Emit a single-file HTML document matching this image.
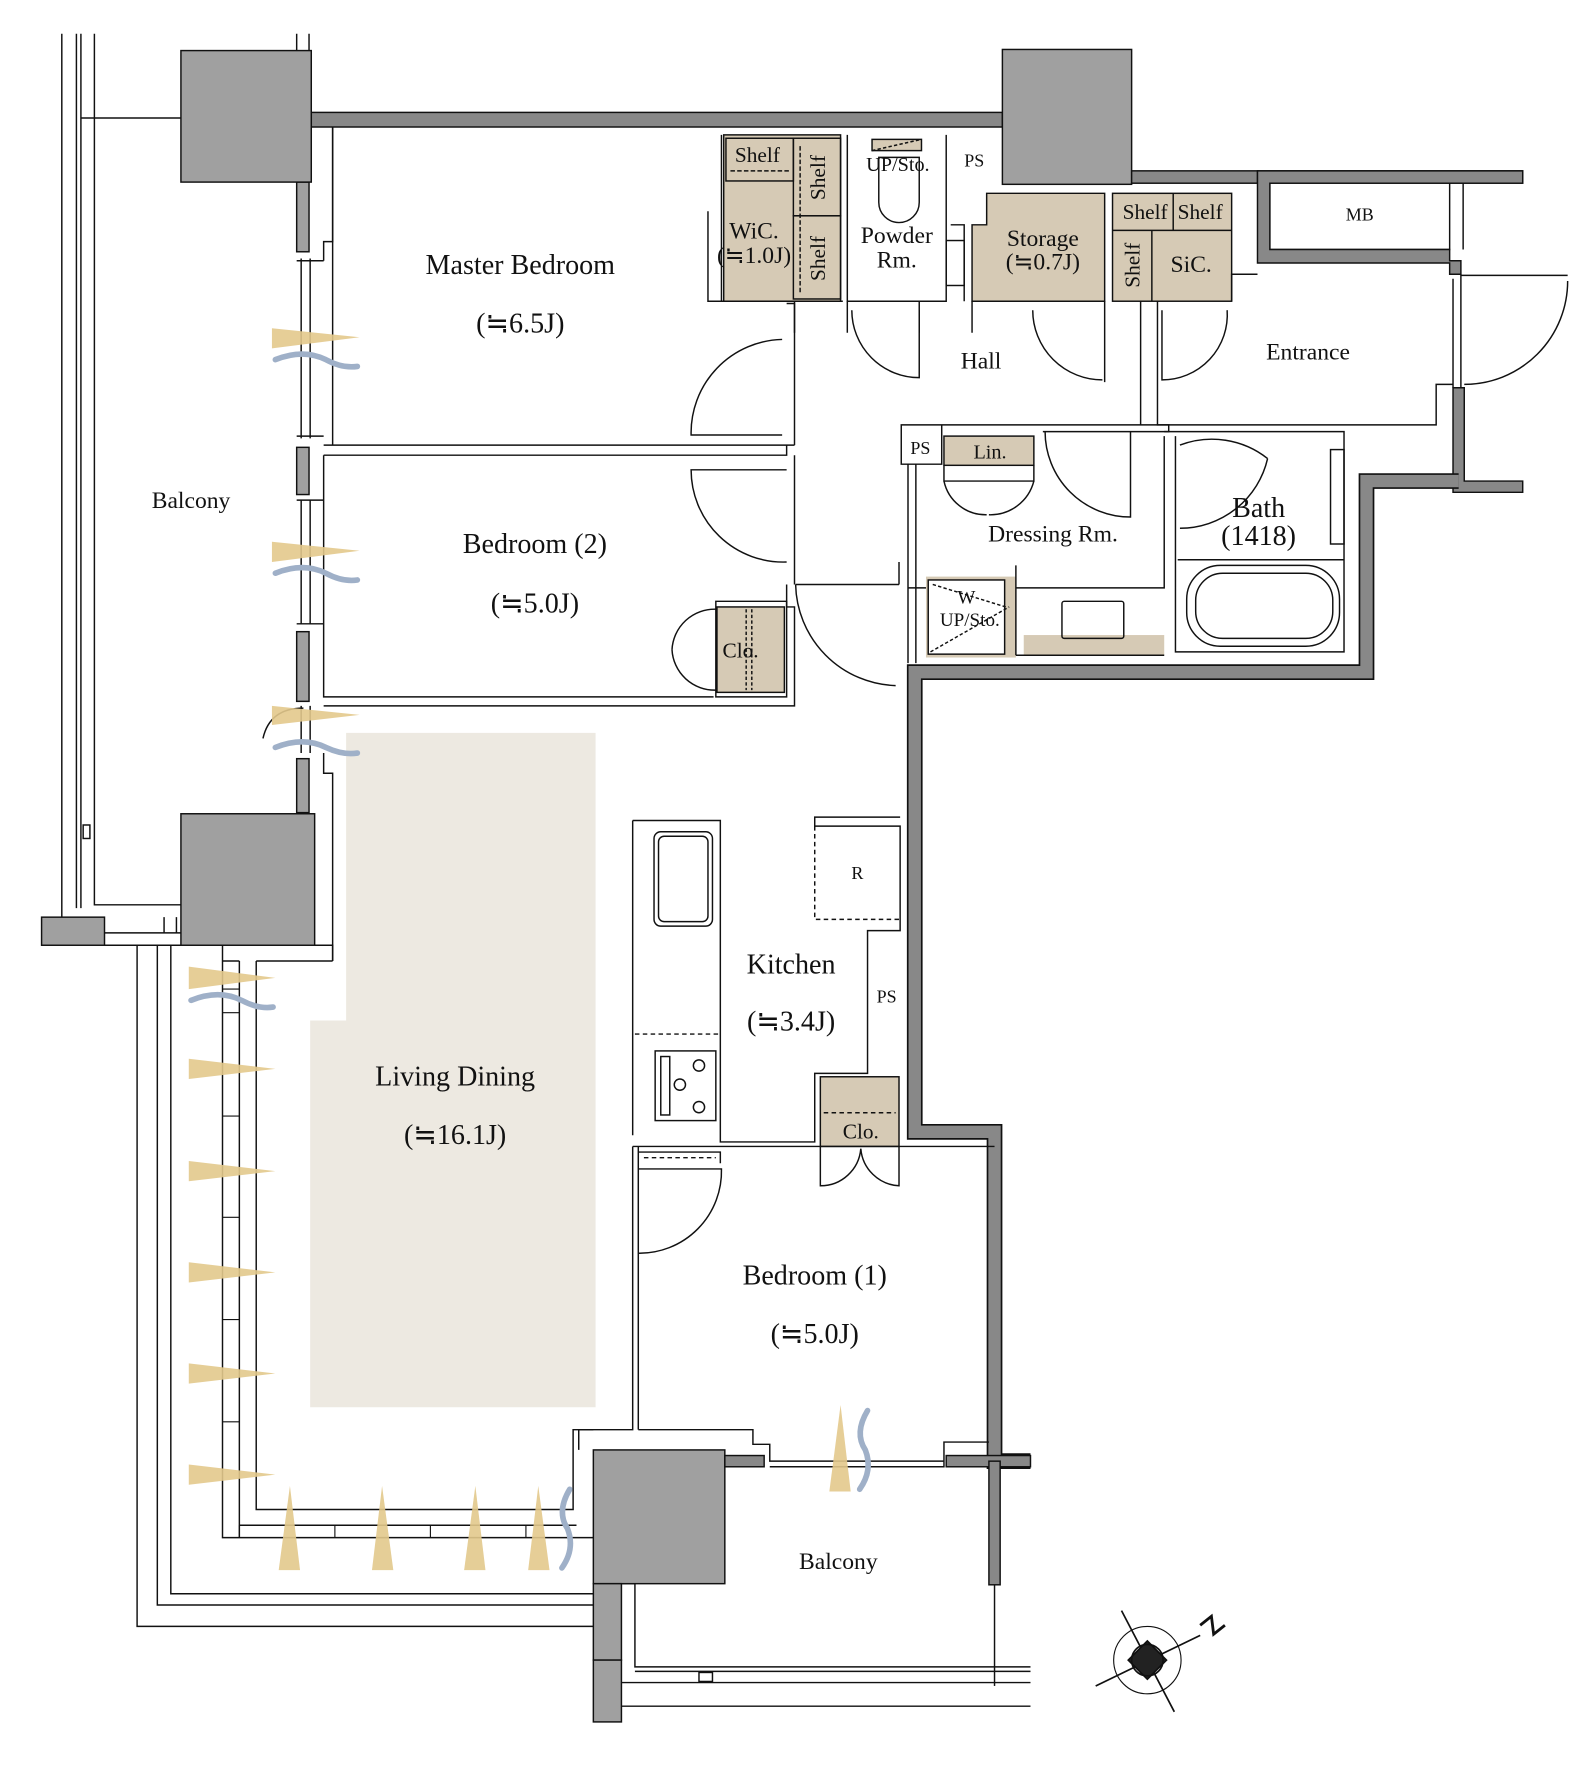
<!DOCTYPE html>
<html><head><meta charset="utf-8"><style>
html,body{margin:0;padding:0;background:#fff;}
svg{display:block}
text{font-family:"Liberation Serif",serif;fill:#111}
</style></head><body>
<svg width="1589" height="1768" viewBox="0 0 1414 1573" preserveAspectRatio="none" xmlns="http://www.w3.org/2000/svg">
<g fill="none" stroke="#111" stroke-width="1.3">
<polygon points="308,652 530,652 530,1252 276,1252 276,908 308,908" fill="#ede9e1" stroke="none"/>
<path d="M55,30 V820 M68,30 V808 M72,30 V808 M72,105 H161 M84,30 V805 H161"/>
<rect x="74" y="734" width="6" height="12"/>
<rect x="37" y="816" width="56" height="25" fill="#a0a0a0"/>
<path d="M93,830 H161 M93,841 H161 M146,816 V830 M157,816 V830"/>
<path d="M122,841 V1447 H528 M140,841 V1428 H528 M152,841 V1418 H528"/>
<path d="M198,841 V1368 H528 M213,855 V1368 M213,1357 H513 M228,855 V1343 H510 V1272 H528"/>
<path d="M198,855 H213 M280,841 H296 V855 M228,855 H296"/>
<g stroke-width="1">
<path d="M198,880 H213 M198,901 H213 M198,993 H213 M198,1083 H213 M198,1174 H213 M198,1265 H213"/>
<path d="M213,1357 V1368 M298,1357 V1368 M383,1357 V1368 M468,1357 V1368"/>
</g>
<path d="M264,30 V45 M275,30 V45"/>
<rect x="264" y="162" width="11" height="62" fill="#a0a0a0"/>
<path d="M268,230 V390 M276,230 V390 M264,232 H288 M264,388 H288 M288,232 V215 H296 V113"/>
<rect x="264" y="398" width="11" height="42" fill="#a0a0a0"/>
<path d="M268,445 V555 M276,445 V555 M264,445 H288 M264,555 H288"/>
<rect x="264" y="562" width="11" height="62" fill="#a0a0a0"/>
<path d="M268,628 V670 M276,628 V670"/>
<rect x="264" y="675" width="11" height="48" fill="#a0a0a0"/>
<path d="M234,657 Q240,630 270,630"/>
<path d="M288,670 V688 H296 V855"/>
<rect x="277" y="100" width="615" height="13" fill="#888"/>
<rect x="161" y="45" width="116" height="117" fill="#a0a0a0"/>
<rect x="892" y="44" width="115" height="120" fill="#a0a0a0"/>
<rect x="161" y="724" width="119" height="117" fill="#a0a0a0"/>
<rect x="528" y="1290" width="117" height="119" fill="#a0a0a0"/>
<rect x="528" y="1409" width="25" height="68" fill="#a0a0a0"/>
<rect x="528" y="1477" width="25" height="55" fill="#a0a0a0"/>
<!-- right walls -->
<rect x="1007" y="152" width="112" height="11" fill="#888"/>
<path d="M1119,152 H1355 V163 H1130 V222 H1290 V163 M1302,163 V222"/>
<path d="M1119,152 H1355 V163 H1130 V222 H1290 V232 H1300 V244 H1290 V234 H1119 Z" fill="#888"/>
<path d="M1300,244 V345 M1293,248 V345 M1300,245 H1395"/>
<path d="M1303,342 A92,92 0 0,0 1395,250"/>
<path d="M1293,345 H1303 V428 H1355 V438 H1293 Z" fill="#888"/>
<!-- outer stepped wall -->
<path d="M1298,428 H1216 V598 H814 V1007 H885 V1300 H917" stroke="#111" stroke-width="14"/>
<path d="M1298,428 H1216 V598 H814 V1007 H885 V1300 H917" stroke="#888" stroke-width="11"/>
<rect x="842" y="1295" width="75" height="10" fill="#888"/>
<rect x="880" y="1300" width="10" height="110" fill="#888"/>
<path d="M885,1410 V1500"/>
<rect x="645" y="1295" width="35" height="10" fill="#888"/>
<path d="M553,1409 H565 V1483 H917 M565,1487 H917 M553,1497 H917 M553,1518 H917 M565,1420 V1483"/>
<rect x="622" y="1488" width="12" height="8"/>
<path d="M296,113 V396 H707 M288,405 H700 V396 M288,396 H296"/>
<path d="M707,270 V390 M700,270 H707 V396 M707,405 V520"/>
<path d="M696,302 A83,83 0 0,0 615,387 H696"/>
<path d="M288,405 V620 H635 M288,628 H707 V540 H700 V520"/>
<path d="M700,418 H615 A82,82 0 0,0 700,500"/>
<path d="M637,535 V620 H700 V535 Z"/>
<rect x="638" y="540" width="60" height="76" fill="#d6cab5"/>
<path d="M664,542 V614 M669,542 V614" stroke-dasharray="3,2"/>
<path d="M637,542 A38,38 0 0,0 598,578 M637,614 A38,38 0 0,1 598,578"/>
<!-- WiC -->
<path d="M642,120 V268 H750"/>
<rect x="644" y="120" width="104" height="148" fill="#d6cab5"/>
<rect x="646" y="123" width="60" height="38"/>
<path d="M650,152 H702" stroke-dasharray="4,2"/>
<rect x="706" y="123" width="42" height="69"/>
<rect x="706" y="192" width="42" height="74"/>
<path d="M712,130 V260" stroke-dasharray="4,2"/>
<path d="M630,188 V268 H642"/>
<path d="M754,120 V268 H842 V120"/>
<rect x="776" y="124" width="44" height="10" fill="#d6cab5"/>
<path d="M776,134 L820,124" stroke-dasharray="3,2"/>
<path d="M782,140 V180 A18,18 0 0,0 818,180 V140 Z"/>
<rect x="842" y="214" width="16" height="40"/>
<path d="M846,200 H858 V268"/>
<path d="M878,172 H983 V268 H865 V200 H878 Z" fill="#d6cab5"/>
<rect x="990" y="172" width="106" height="96" fill="#d6cab5"/>
<path d="M990,205 H1096 M1044,172 V205 M1025,205 V268"/>
<path d="M707,268 V296 M754,268 V296 M818,268 V296 M865,268 V296 M983,268 V340 M1015,268 V378 M1030,268 V378 H1278 V342 H1293 M1096,268 V244 H1119"/>
<path d="M758,276 A60,60 0 0,0 818,336 V276"/>
<path d="M919,276 A62,62 0 0,0 981,338"/>
<path d="M1034,276 V338 A58,58 0 0,0 1092,276"/>
<path d="M802,378 V413 H838 V378 Z M838,378 H1040 V384 H928"/>
<rect x="840" y="388" width="80" height="26" fill="#d6cab5"/>
<path d="M840,414 V428 H920 V414 M840,428 A38,38 0 0,0 878,458 M920,428 A40,40 0 0,1 880,458"/>
<path d="M930,384 A76,76 0 0,0 1006,460 V384"/>
<path d="M808,413 V590 M815,413 V590 M800,500 V520 M708,520 H800 M708,520 A92,92 0 0,0 797,610"/>
<path d="M808,523 H1036 V388 M1036,384 H1196 V580 H1046 V388 M1048,498 H1196"/>
<rect x="824" y="513" width="80" height="72" fill="#d6cab5" stroke="none"/>
<rect x="826" y="516" width="68" height="66" fill="#fff"/>
<path d="M830,520 L895,540 M828,580 L898,540" stroke-dasharray="3,2"/>
<rect x="911" y="565" width="125" height="18" fill="#d6cab5" stroke="none"/>
<path d="M904,503 V583 M904,583 H1036"/>
<rect x="945" y="535" width="55" height="33" rx="2"/>
<rect x="1056" y="503" width="136" height="72" rx="30"/>
<rect x="1064" y="510" width="122" height="58" rx="24"/>
<rect x="1184" y="400" width="12" height="84"/>
<path d="M1050,396 A80,80 0 0,1 1128,408 M1050,470 A80,80 0 0,0 1128,408"/>
<path d="M563,730 V1010 M563,730 H641 V1016 H725 V955 H772 V828 H801 V735 H725 V727 H801"/>
<rect x="582" y="740" width="52" height="84" rx="6"/>
<rect x="586" y="744" width="44" height="76" rx="5"/>
<path d="M565,920 H641" stroke-dasharray="4,3"/>
<rect x="583" y="935" width="54" height="62"/>
<rect x="588" y="940" width="8" height="52"/>
<circle cx="605" cy="965" r="5"/><circle cx="622" cy="948" r="5"/><circle cx="622" cy="985" r="5"/>
<path d="M725,735 V818 H801" stroke-dasharray="4,3"/>
<rect x="730" y="958" width="70" height="62" fill="#d6cab5"/>
<path d="M733,990 H797" stroke-dasharray="4,3"/>
<path d="M730,1020 V1055 A36,36 0 0,0 766,1022 M800,1020 V1055 A36,36 0 0,1 766,1022"/>
<path d="M563,1020 H885 M568,1025 H641 V1035 M568,1020 V1272 M563,1020 V1272 H515 V1290"/>
<path d="M573,1030 H637" stroke-dasharray="4,3"/>
<path d="M568,1115 A73,73 0 0,0 642,1040 H568"/>
<path d="M568,1272 H670 V1285 H685 V1300 H840 M685,1305 H840 V1283 H880"/>
</g>
<g fill="#e3c98c" opacity="0.9">
<polygon points="242,292 320,300 242,310"/><polygon points="242,482 320,490 242,500"/><polygon points="242,628 320,636 242,645"/>
<polygon points="168,860 245,870 168,880"/><polygon points="168,942 245,951 168,960"/><polygon points="168,1033 245,1042 168,1051"/>
<polygon points="168,1123 245,1132 168,1141"/><polygon points="168,1213 245,1222 168,1231"/><polygon points="168,1303 245,1312 168,1321"/>
<polygon points="248,1397 258,1322 267,1397"/><polygon points="331,1397 340,1322 350,1397"/><polygon points="413,1397 423,1322 432,1397"/><polygon points="470,1397 479,1322 489,1397"/>
<polygon points="738,1327 748,1250 757,1327"/>
</g>
<g fill="none" stroke="#9fb0c8" stroke-width="5" stroke-linecap="round">
<path d="M245,320 Q270,310 290,320 Q305,328 318,326"/><path d="M245,510 Q270,500 290,510 Q305,518 318,516"/><path d="M245,665 Q270,655 290,665 Q305,672 318,670"/>
<path d="M170,890 Q195,880 215,890 Q230,898 243,896"/>
<path d="M507,1325 Q495,1345 505,1360 Q512,1378 500,1395"/>
<path d="M772,1255 Q760,1275 770,1290 Q777,1308 765,1325"/>
</g>
<g stroke="#111" stroke-width="1.5" fill="none">
<circle cx="1021" cy="1477" r="30" stroke-width="1"/>
<path d="M998,1433 L1045,1523 M975,1500 L1068,1455"/>
<polygon points="1021,1460 1038,1477 1021,1494 1004,1477" fill="#222"/>
<circle cx="1021" cy="1477" r="14"/>
<path d="M1068,1446 L1078,1438 L1080,1454 L1090,1446" stroke-width="2.5"/>
</g>
<g font-size="25">
<text x="463" y="244" text-anchor="middle">Master Bedroom</text>
<text x="463" y="296" text-anchor="middle">(≒6.5J)</text>
<text x="476" y="492" text-anchor="middle">Bedroom (2)</text>
<text x="476" y="545" text-anchor="middle">(≒5.0J)</text>
<text x="405" y="966" text-anchor="middle">Living Dining</text>
<text x="405" y="1018" text-anchor="middle">(≒16.1J)</text>
<text x="704" y="866" text-anchor="middle">Kitchen</text>
<text x="704" y="917" text-anchor="middle">(≒3.4J)</text>
<text x="725" y="1143" text-anchor="middle">Bedroom (1)</text>
<text x="725" y="1195" text-anchor="middle">(≒5.0J)</text>
<text x="1120" y="460" text-anchor="middle">Bath</text>
<text x="1120" y="485" text-anchor="middle">(1418)</text>
</g>
<g font-size="21">
<text x="170" y="452" text-anchor="middle">Balcony</text>
<text x="746" y="1396" text-anchor="middle">Balcony</text>
<text x="873" y="328" text-anchor="middle">Hall</text>
<text x="1164" y="320" text-anchor="middle">Entrance</text>
<text x="937" y="482" text-anchor="middle">Dressing Rm.</text>
<text x="798" y="216" text-anchor="middle">Powder</text>
<text x="798" y="238" text-anchor="middle">Rm.</text>
<text x="928" y="219" text-anchor="middle">Storage</text>
<text x="928" y="240" text-anchor="middle">(≒0.7J)</text>
<text x="1060" y="242" text-anchor="middle">SiC.</text>
<text x="671" y="212" text-anchor="middle">WiC.</text>
<text x="671" y="234" text-anchor="middle">(≒1.0J)</text>
<text x="674" y="144" text-anchor="middle" font-size="19">Shelf</text>
<text x="1019" y="195" text-anchor="middle" font-size="19">Shelf</text>
<text x="1068" y="195" text-anchor="middle" font-size="19">Shelf</text>
<text x="881" y="408" text-anchor="middle" font-size="18">Lin.</text>
<text x="659" y="585" text-anchor="middle" font-size="19">Clo.</text>
<text x="766" y="1013" text-anchor="middle" font-size="19">Clo.</text>
<text x="799" y="152" text-anchor="middle" font-size="18">UP/Sto.</text>
<text x="863" y="557" text-anchor="middle" font-size="17">UP/Sto.</text>
<text x="860" y="537" text-anchor="middle" font-size="17">W</text>
</g>
<g font-size="16">
<text x="867" y="148" text-anchor="middle">PS</text>
<text x="819" y="404" text-anchor="middle">PS</text>
<text x="789" y="892" text-anchor="middle">PS</text>
<text x="763" y="782" text-anchor="middle">R</text>
<text x="1210" y="196" text-anchor="middle">MB</text>
</g>
<g font-size="19">
<text transform="translate(734,158) rotate(-90)" text-anchor="middle">Shelf</text>
<text transform="translate(734,230) rotate(-90)" text-anchor="middle">Shelf</text>
<text transform="translate(1014,236) rotate(-90)" text-anchor="middle">Shelf</text>
</g>
</svg>
</body></html>
